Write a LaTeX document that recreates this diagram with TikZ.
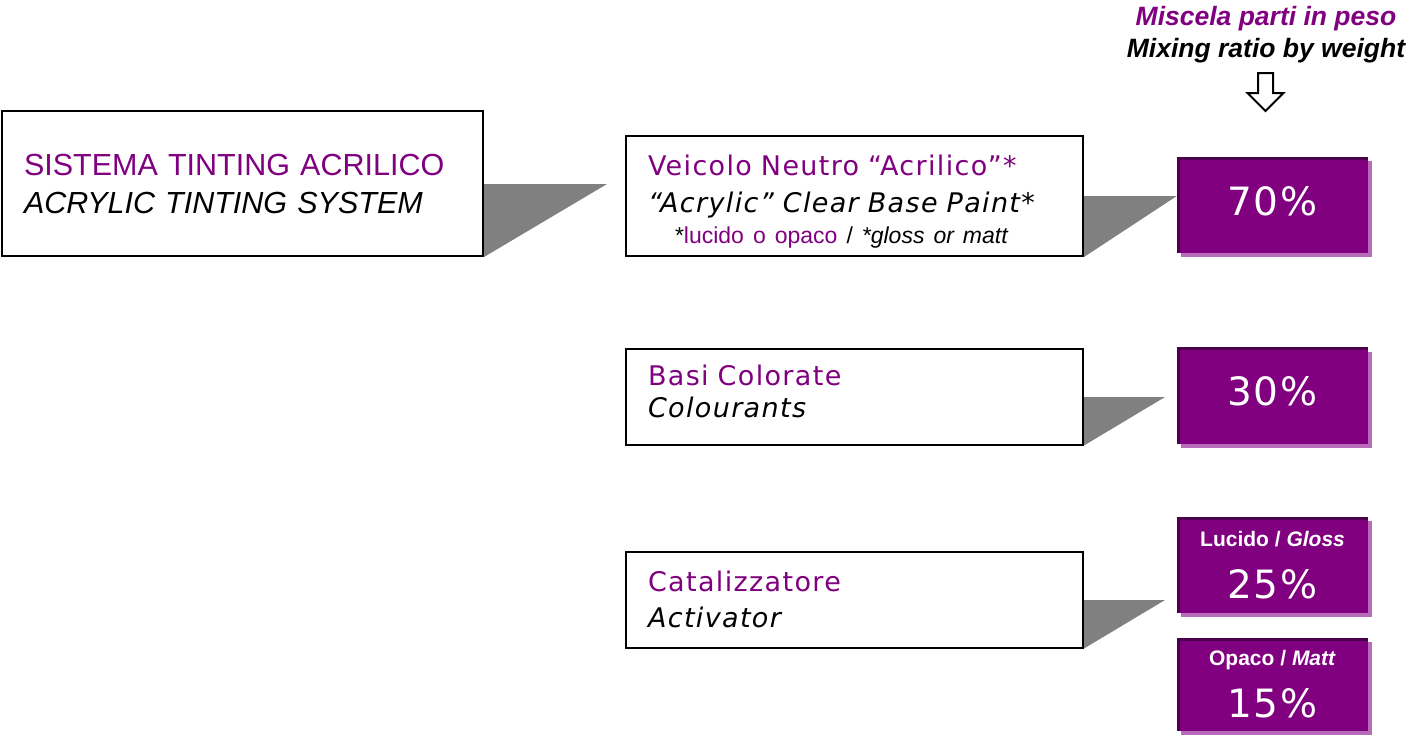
\documentclass[tikz,border=0pt]{standalone}
\usepackage{fontspec}
\setmainfont{Liberation Sans}
\newfontfamily\vfont[LetterSpace=5]{DejaVu Sans}
\usepackage{tikz}
\usetikzlibrary{shadows, positioning, backgrounds}
\definecolor{vpurple}{HTML}{800080}
\definecolor{vdark}{HTML}{4A004A}
\definecolor{vlight}{HTML}{B86BB8}
\definecolor{pgray}{HTML}{808080}
\tikzstyle{item}=[draw=black,line width=2pt,fill=white,inner xsep=22pt,inner ysep=0pt,align=left]
\tikzstyle{ratio}=[fill=vpurple,text=white,minimum width=191pt,minimum height=96pt,inner sep=0pt,align=center,
  font=\vfont\fontsize{39}{52}\selectfont,
  drop shadow={shadow xshift=4pt,shadow yshift=-4pt,fill=vlight,opacity=1},
  path picture={\draw[vdark,line width=5pt] (path picture bounding box.south west) -- (path picture bounding box.north west) -- (path picture bounding box.north east);}]
\tikzstyle{pointer}=[fill=pgray]
\tikzstyle{head}=[anchor=base,font=\bfseries\itshape\fontsize{26.5}{32}\selectfont]

\begin{document}
\begin{tikzpicture}[x=1pt,y=-1pt]
\useasboundingbox (0,0) rectangle (1410,737);
% header
\node[head,text=vpurple] (h0) at (1266,25) {Miscela parti in peso};
\node[head] (h1) at (1266,57) {Mixing ratio by weight};
\draw[line width=2pt,fill=white] (1258,73) -- (1273,73) -- (1273,93) -- (1283.5,93) -- (1265.5,111) -- (1247.5,93) -- (1258,93) -- cycle;

% products
\node[item,minimum width=481pt,minimum height=145pt,text width=437pt,font=\fontsize{30.5}{38}\selectfont] (b0) at (242.5,183.5)
  {\textcolor{vpurple}{SISTEMA TINTING ACRILICO}\\\textit{ACRYLIC TINTING SYSTEM}};
\node[item,minimum width=457pt,minimum height=120pt,text width=413pt,font=\vfont\fontsize{27}{37}\selectfont] (b1) at (854.5,196)
  {\rule{0pt}{31pt}\textcolor{vpurple}{Veicolo Neutro “Acrilico”*}\\\textit{“Acrylic” Clear Base Paint*}\\[-6pt]\hspace*{27pt}{\rmfamily\fontsize{23}{30}\selectfont *\textcolor{vpurple}{lucido o opaco} / \textit{*gloss or matt}}};
\node[item,minimum width=457pt,minimum height=96pt,text width=413pt,font=\vfont\fontsize{27}{35}\selectfont] (b2) at (854.5,396.5)
  {\textcolor{vpurple}{Basi Colorate}\\[-3pt]\textit{Colourants}\rule[-10.5pt]{0pt}{0pt}};
\node[item,minimum width=457pt,minimum height=96pt,text width=413pt,font=\vfont\fontsize{27}{36}\selectfont] (b3) at (854.5,599.5)
  {\textcolor{vpurple}{Catalizzatore}\\\textit{Activator}};

% ratios
\node[ratio,text height=20pt,text depth=0pt] (r0) at (1272.5,205) {70\%};
\node[ratio,text height=20pt,text depth=0pt] (r1) at (1272.5,395.5) {30\%};
\node[ratio] (r2) at (1272.5,565) {{\rmfamily\bfseries\fontsize{21}{52}\selectfont Lucido / \textit{Gloss}}\\25\%};
\node[ratio,minimum height=93pt] (r3) at (1272.5,684.5) {{\rmfamily\bfseries\fontsize{21}{52}\selectfont Opaco / \textit{Matt}}\\15\%};

% pointers
\coordinate (t0) at (607,184);
\coordinate (t1) at (r0.west |- 0,196);
\coordinate (t2) at (1165,397);
\coordinate (t3) at (1165,600);
\begin{scope}[on background layer]
\fill[pointer] (b0.south east) |- (t0) -- cycle;
\fill[pointer] (b1.south east) |- (t1) -- cycle;
\fill[pointer] (b2.south east) |- (t2) -- cycle;
\fill[pointer] (b3.south east) |- (t3) -- cycle;
\end{scope}
\end{tikzpicture}
\end{document}
